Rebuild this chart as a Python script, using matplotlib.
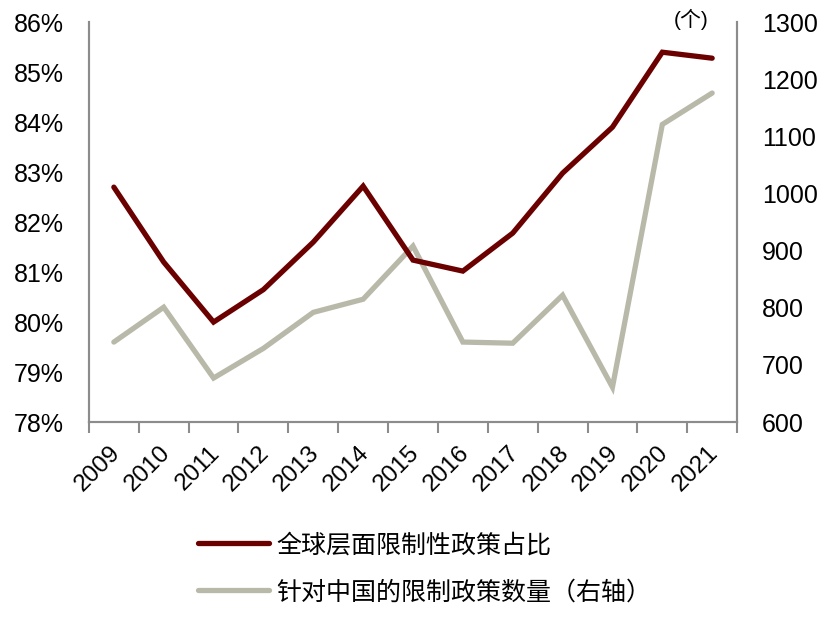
import numpy as np
import matplotlib.pyplot as plt
import matplotlib.transforms as mtransforms

plt.rcParams['font.family'] = ['Liberation Sans', 'Noto Sans CJK SC', 'DejaVu Sans']

years = ['2009', '2010', '2011', '2012', '2013', '2014', '2015',
         '2016', '2017', '2018', '2019', '2020', '2021']
# share of restrictive policies worldwide (%)
global_share = [82.7, 81.2, 80.0, 80.65, 81.6, 82.72, 81.24,
                81.02, 81.78, 82.98, 83.9, 85.4, 85.28]
# number of restrictive policies against China (right axis)
china_count = [740, 801, 677, 729, 792, 815, 908,
               740, 738, 822, 661, 1121, 1176]

red = '#6B0000'
grey = '#B9B9AA'
spine_col = '#8C8C8C'

fig = plt.figure(figsize=(8.31, 6.17), dpi=100)
ax = fig.add_axes([0.107, 0.316, 0.780, 0.648])
ax2 = ax.twinx()

x = np.arange(len(years))
l1, = ax.plot(x, global_share, color=red, lw=3.8, solid_capstyle='round',
              solid_joinstyle='miter', label='全球层面限制性政策占比', zorder=3)
l2, = ax2.plot(x, china_count, color=grey, lw=3.8, solid_capstyle='round',
               solid_joinstyle='miter', label='针对中国的限制政策数量（右轴）')
ax.set_zorder(ax2.get_zorder() + 1)
ax.patch.set_visible(False)

ax.set_xlim(-0.5, len(years) - 0.5)
ax.set_ylim(78, 86)
ax.set_yticks(np.arange(78, 87, 1))
ax.set_yticklabels([f'{v}%' for v in range(78, 87)])
ax2.set_ylim(600, 1300)
ax2.set_yticks(np.arange(600, 1301, 100))

ax.set_xticks(x)
ax.set_xticklabels(years, rotation=45, ha='right', va='top', rotation_mode='anchor')
ax.set_xticks(np.arange(-0.5, len(years), 1), minor=True)
ax.tick_params(axis='x', which='major', length=0, pad=14, labelsize=17.5)
ax.tick_params(axis='x', which='minor', length=8, width=1.5, color=spine_col, direction='out')
ax.tick_params(axis='y', length=0, pad=18, labelsize=18)
ax2.tick_params(axis='y', length=0, pad=18, labelsize=18)

# nudge the rotated year labels a little to the left
shift = mtransforms.ScaledTranslation(-5 / 100, 0, fig.dpi_scale_trans)
for lab in ax.get_xticklabels():
    lab.set_transform(lab.get_transform() + shift)

for a in (ax, ax2):
    a.spines['top'].set_visible(False)
    for s in ('left', 'right', 'bottom'):
        a.spines[s].set_color(spine_col)
        a.spines[s].set_linewidth(1.5)

fig.text(0.832, 0.968, '(个)', fontsize=15, ha='center', va='center')

fig.legend(handles=[l1, l2], loc='upper left', bbox_to_anchor=(0.226, 0.152),
           frameon=False, fontsize=18, handlelength=2.85, handletextpad=0.28,
           labelspacing=0.92, borderaxespad=0)
fig.savefig('out.png', dpi=100)
